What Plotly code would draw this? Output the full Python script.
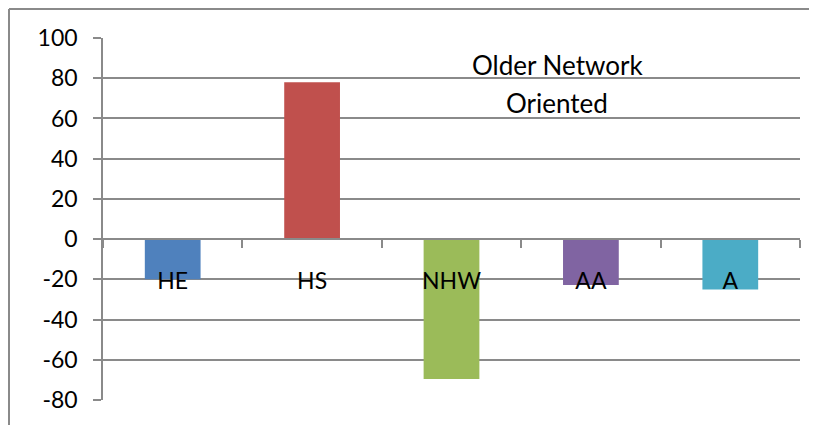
import plotly.graph_objects as go

categories = ["HE", "HS", "NHW", "AA", "A"]
values = [-20, 78, -69.6, -22.8, -25]
colors = ["#4F81BD", "#C0504D", "#9BBB59", "#8064A2", "#4BACC6"]
y_ticks = [100, 80, 60, 40, 20, 0, -20, -40, -60, -80]
y_tick_text = ["100", "80", "60", "40", "20", "0", "-20", "-40", "-60", "-80"]
title_lines = ["Older Network", "Oriented"]

FONT = "Lato, Carlito, Calibri, sans-serif"
GRID = "#8a8a8a"

# page body has an 8px default margin, so the figure is 8px smaller
W, H = 809, 417
OFF = 8

fig = go.Figure(go.Bar(
    x=categories, y=values, marker=dict(color=colors, line=dict(width=0)),
    width=0.4, showlegend=False,
))

L, R, T, B = 95, 17, 30, 25
ymin, ymax = -80, 100
zero_pos = (0 - ymin) / (ymax - ymin)

fig.update_layout(
    width=W, height=H,
    margin=dict(l=L, r=R, t=T, b=B, pad=0, autoexpand=False),
    paper_bgcolor="white", plot_bgcolor="white",
    font=dict(family=FONT, size=23, color="black"),
    xaxis=dict(
        anchor="free", position=zero_pos,
        showline=True, linecolor=GRID, linewidth=1.5,
        ticks="outside", ticklen=8, tickcolor=GRID, tickwidth=1.5,
        tickson="boundaries", showgrid=False, zeroline=False,
        ticklabelstandoff=22, tickfont=dict(size=23, family=FONT),
        automargin=False,
    ),
    yaxis=dict(
        range=[ymin, ymax], tickvals=y_ticks, ticktext=y_tick_text,
        showline=True, linecolor=GRID, linewidth=1.5,
        ticks="outside", ticklen=8, tickcolor=GRID, tickwidth=1.5,
        showgrid=True, gridcolor=GRID, gridwidth=1.5, zeroline=False,
        ticklabelstandoff=11, tickfont=dict(size=23, family=FONT),
        automargin=False,
    ),
)

pw = W - L - R
ph = H - T - B
def px_x(x):
    return (x - OFF - L) / pw
def px_y(y):
    return (H - B - (y - OFF)) / ph

# outer chart-area border (partially visible)
fig.add_shape(type="line", xref="paper", yref="paper",
              x0=px_x(9), x1=px_x(9), y0=px_y(9), y1=px_y(440),
              line=dict(color=GRID, width=2))
fig.add_shape(type="line", xref="paper", yref="paper",
              x0=px_x(9), x1=px_x(830), y0=px_y(9), y1=px_y(9),
              line=dict(color=GRID, width=2))

for line, yc in zip(title_lines, [65, 103]):
    fig.add_annotation(text=line, xref="paper", yref="paper",
                       x=px_x(557), y=px_y(yc), showarrow=False,
                       xanchor="center", yanchor="middle",
                       font=dict(size=26, family=FONT, color="black"))

fig.write_html("out.html")
